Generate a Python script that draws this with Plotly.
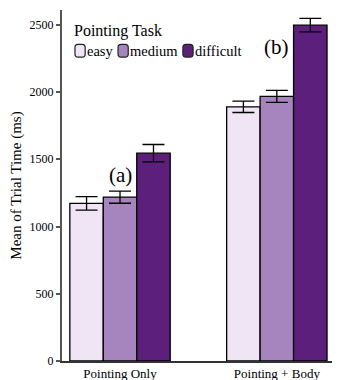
import plotly.graph_objects as go

conditions = ['Pointing Only', 'Pointing + Body']
levels = ['easy', 'medium', 'difficult']
means = {
    'easy': [1172, 1890],
    'medium': [1218, 1968],
    'difficult': [1545, 2497],
}
errors = {
    'easy': [50, 42],
    'medium': [45, 45],
    'difficult': [65, 50],
}
colors = {'easy': '#efe5f5', 'medium': '#a684bd', 'difficult': '#5c1f7b'}
panel_labels = ['(a)', '(b)']
panel_label_y = [1385, 2335]

fig = go.Figure()
for lvl in levels:
    fig.add_trace(go.Bar(
        x=conditions,
        y=means[lvl],
        name=lvl,
        showlegend=False,
        marker=dict(color=colors[lvl], line=dict(color='black', width=1.3)),
        error_y=dict(type='data', array=errors[lvl], color='black', thickness=1.3, width=11),
    ))

# panel labels sit above the medium bars
for cond, lab, ly in zip(conditions, panel_labels, panel_label_y):
    fig.add_annotation(x=cond, y=ly, text=lab, showarrow=False,
                       font=dict(size=21, color='black'))

# compact legend drawn by hand (plotly's own legend spacing is too wide)
fig.add_annotation(xref='paper', yref='paper', x=0.036, y=0.94,
                   xanchor='left', yanchor='middle', showarrow=False,
                   text='Pointing Task', font=dict(size=16, color='black'))
for lvl, x0 in zip(levels, [0.047, 0.203, 0.438]):
    x1 = x0 + 0.037
    y0, y1 = 0.866, 0.902
    rx, ry = 0.011, 0.009
    path = (f'M {x0 + rx},{y0} L {x1 - rx},{y0} Q {x1},{y0} {x1},{y0 + ry} '
            f'L {x1},{y1 - ry} Q {x1},{y1} {x1 - rx},{y1} L {x0 + rx},{y1} '
            f'Q {x0},{y1} {x0},{y1 - ry} L {x0},{y0 + ry} Q {x0},{y0} {x0 + rx},{y0} Z')
    fig.add_shape(type='path', path=path, xref='paper', yref='paper',
                  fillcolor=colors[lvl], line=dict(color='#222', width=1.2))
    fig.add_annotation(xref='paper', yref='paper', x=x1 - 0.002, y=0.883,
                       xanchor='left', yanchor='middle', showarrow=False,
                       text=lvl, font=dict(size=14.5, color='black'))

# body margin of the html page shifts the figure by 8px, so size it to fit
fig.update_layout(
    width=332, height=372,
    template='plotly_white',
    font=dict(family='Liberation Serif, Times New Roman, serif', color='black', size=12),
    barmode='group',
    bargap=0.36,
    bargroupgap=0,
    margin=dict(l=54, r=2, t=2, b=19),
    plot_bgcolor='white',
)
fig.update_xaxes(
    range=[-0.37, 1.39], automargin=False,
    showgrid=False, showline=True, linecolor='#333', linewidth=1.5,
    ticks='', ticklen=0, tickfont=dict(size=13, color='black'),
)
fig.update_yaxes(
    range=[0, 2610], automargin=False,
    tickvals=[0, 500, 1000, 1500, 2000, 2500],
    showgrid=False, zeroline=False, showline=True, linecolor='#555', linewidth=2,
    ticks='outside', ticklen=4, tickcolor='#555', tickwidth=1.5,
    tickfont=dict(size=12, color='black'),
    title=dict(text='Mean of Trial Time (ms)', font=dict(size=15, color='black')),
)

fig.write_html('out.html')
